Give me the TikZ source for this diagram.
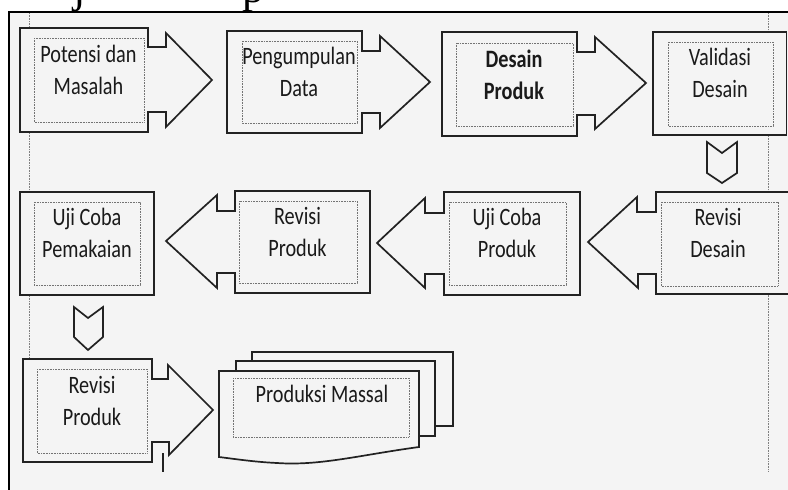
\documentclass[tikz,border=0pt]{standalone}
\usepackage{fontspec}
\newfontfamily\calfont[FakeStretch=0.81]{Carlito}
\newfontfamily\serfont{Liberation Serif}
\definecolor{bgray}{HTML}{F4F4F4}
\definecolor{txt}{HTML}{1A1A1A}
\definecolor{edge}{HTML}{222222}
\tikzset{
  outline/.style={draw=edge, line width=1.7pt, line join=miter, fill=bgray},
  openline/.style={draw=edge, line width=1.7pt, line join=miter},
  innerbox/.style={draw=black!55, line width=0.7pt, dash pattern=on 0.8pt off 0.8pt},
  margin/.style={draw=black!50, line width=0.7pt, dash pattern=on 0.8pt off 0.8pt},
  lbl/.style={font=\calfont\fontsize{25}{32}\selectfont, align=center, inner sep=0pt, text=txt},
  frag/.style={font=\serfont\fontsize{44}{44}\selectfont, inner sep=0pt, anchor=base, text=black}
}
\begin{document}
\begin{tikzpicture}[x=1pt, y=-1pt]
\useasboundingbox (0,0) rectangle (788,490);
\begin{scope}
\clip (0,0) rectangle (788,490);
\fill[white] (0,0) rectangle (788,490);
\fill[bgray] (9,12) rectangle (800,500);
% fragments of the clipped title line (only their descenders show)
\begin{scope}
\clip (0,0) rectangle (788,11.5);
\node[frag] (fragj) at (80,2) {j};
\node[frag] (fragp) at (253,2) {p};
\end{scope}
% frame
\draw[black, line width=2pt] (9,500) -- (9,12) -- (800,12);
% page margins
\draw[margin] (29,13) -- (29,440);
\draw[margin] (768,13) -- (768,472);

% Row 1
\draw[outline] (20,28) -- (148,28) -- (148,47) -- (166,47) -- (166,33) -- (212,80) -- (166,127) -- (166,112) -- (148,112) -- (148,132) -- (20,132) -- cycle;
\draw[outline] (227,31) -- (362,31) -- (362,51) -- (380,51) -- (380,36) -- (430,82) -- (380,128) -- (380,113) -- (362,113) -- (362,133) -- (227,133) -- cycle;
\draw[outline] (442,32) -- (577,32) -- (577,52) -- (595,52) -- (595,37) -- (646,83) -- (595,129) -- (595,115) -- (577,115) -- (577,136) -- (442,136) -- cycle;
\draw[outline] (653,32) rectangle (786.5,135);
\draw[outline] (707,142) -- (722,153) -- (737,142) -- (737,173) -- (722,183) -- (707,173) -- cycle;

% Row 2
\draw[outline] (800,192) -- (656,192) -- (656,212) -- (637,212) -- (637,197) -- (588,242) -- (638,288) -- (638,274) -- (656,274) -- (656,294) -- (800,294);
\draw[outline] (580,192) -- (444,192) -- (444,213) -- (425,213) -- (425,198) -- (377,243) -- (425,288) -- (425,274) -- (444,274) -- (444,295) -- (580,295) -- cycle;
\draw[outline] (370,191) -- (235,191) -- (235,211) -- (217,211) -- (217,195) -- (166,241) -- (217,288) -- (217,273) -- (235,273) -- (235,293) -- (370,293) -- cycle;
\draw[outline] (20,192) rectangle (154,295);
\draw[outline] (74,307) -- (88,318) -- (103,307) -- (103,337) -- (88,350) -- (74,337) -- cycle;

% Row 3
\draw[outline] (23,359) -- (152,359) -- (152,379) -- (168,379) -- (168,365) -- (213,410) -- (169,455) -- (169,442) -- (152,442) -- (152,462) -- (23,462) -- cycle;
\draw[openline] (163,453) -- (163,472);
% multi-document
\draw[outline] (252,361) -- (252,352) -- (453,352) -- (453,426) -- (435,426) -- (435,361) -- cycle;
\draw[outline] (236,371) -- (236,361) -- (435,361) -- (435,436) -- (419,436) -- (419,371) -- cycle;
\draw[outline] (219,371) -- (419,371) -- (419,447) .. controls (360,455) and (320,466) .. (277,463) .. controls (255,462) and (235,459) .. (219,457) -- cycle;

% inner dotted boxes
\draw[innerbox] (34,38) rectangle (144,122);
\draw[innerbox] (242,41) rectangle (357,123);
\draw[innerbox] (456,43) rectangle (573,126);
\draw[innerbox] (668,42) rectangle (773,126);
\draw[innerbox] (661,202) rectangle (778,286);
\draw[innerbox] (449,202) rectangle (566,285);
\draw[innerbox] (239,201) rectangle (357,283);
\draw[innerbox] (34,202) rectangle (140,285);
\draw[innerbox] (37,369) rectangle (147,453);
\draw[innerbox] (233,378) rectangle (409,437);

% labels
\node[lbl] (potensi) at (88.5,72.4) {\strut Potensi dan\\\strut Masalah};
\node[lbl] (pengumpulan) at (299,73.9) {\strut Pengumpulan\\\strut Data};
\node[lbl, font=\calfont\bfseries\fontsize{25}{32}\selectfont] (desain) at (514,77.4) {\strut Desain\\\strut Produk};
\node[lbl] (validasi) at (720,74.9) {\strut Validasi\\\strut Desain};
\node[lbl] (revdesain) at (718,235.3) {\strut Revisi\\\strut Desain};
\node[lbl] (ujiproduk) at (507,234.8) {\strut Uji Coba\\\strut Produk};
\node[lbl] (revproduk) at (297.5,234.1) {\strut Revisi\\\strut Produk};
\node[lbl] (ujipakai) at (87,235.3) {\strut Uji Coba\\\strut Pemakaian};
\node[lbl] (revproduk2) at (92,402.8) {\strut Revisi\\\strut Produk};
\node[lbl] (massal) at (322,395.9) {\strut Produksi Massal};
\end{scope}
\end{tikzpicture}
\end{document}
